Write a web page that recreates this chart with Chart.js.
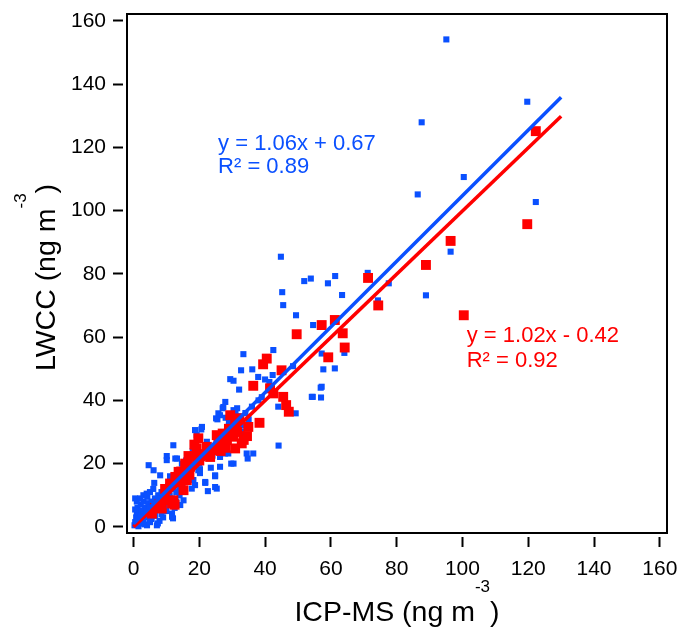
<!DOCTYPE html>
<html>
<head>
<meta charset="utf-8">
<script src="https://cdn.jsdelivr.net/npm/chart.js@4.4.1/dist/chart.umd.min.js"></script>
<style>
  html, body { margin: 0; padding: 0; background: #fff; }
  canvas { display: block; }
</style>
</head>
<body>
<canvas id="c" width="680" height="629"></canvas>
<script>
// axis ticks (same on both axes)
const tickValues = [0, 20, 40, 60, 80, 100, 120, 140, 160];

// ICP-MS (x) vs LWCC (y), small blue markers
const bluePoints = [
  [95.1,154.1],[119.7,134.4],[87.6,127.9],[100.4,110.6],[86.4,105.1],[122.3,102.7],[96.4,87.0],[88.9,73.2],
  [71.2,80.3],[77.6,77.0],[63.4,73.3],[74.3,71.6],[61.3,79.3],[59.1,77.0],[64.1,55.0],[57.2,54.8],
  [57.7,49.8],[61.2,50.1],[57.2,44.3],[57.0,40.9],[54.5,41.1],[44.8,85.4],[45.2,74.2],[45.5,70.1],
  [51.9,77.7],[53.9,78.5],[49.4,66.9],[54.6,63.8],[44.0,38.0],[49.3,35.9],[44.1,25.7],[42.5,55.9],
  [33.4,54.6],[32.7,49.5],[36.1,49.8],[29.4,46.7],[30.4,46.2],[32.1,43.4],[37.9,47.4],[40.0,46.6],
  [42.3,48.0],[41.3,45.8],[48.5,50.8],[56.9,44.0],[54.2,41.1],[27.9,39.5],[27.1,37.5],[25.8,35.9],
  [25.1,34.3],[30.4,36.9],[32.7,29.7],[34.4,23.2],[36.4,23.2],[30.4,20.0],[28.8,23.2],[26.3,22.1],
  [26.3,19.0],[24.8,16.0],[25.3,12.1],[22.6,11.3],[21.8,13.9],[23.5,18.7],[20.6,30.8],[19.2,29.0],
  [22.3,26.9],[20.2,18.2],[20.2,17.0],[12.1,25.8],[10.1,22.4],[12.7,21.6],[14.7,20.0],[4.6,19.5],
  [6.1,17.9],[8.1,16.3],[6.3,13.9],[11.1,16.0],[18.2,14.8],[18.7,13.2],[15.2,8.4],[14.2,6.9],
  [11.7,4.2],[12.0,2.7],[7.9,1.9],[7.1,0.5],[27.3,37.9],[26.3,35.3],[28.8,31.6],[32.9,30.0],
  [34.7,21.6],[29.7,20.0],[24.8,16.3],[21.8,14.2],[24.8,12.6],[19.7,17.9],[13.2,21.6],[18.7,30.6],
  [20.8,31.6],[25.3,25.8],[27.8,23.2],[10.1,21.1],[17.7,12.1],[11.7,9.0],[11.7,3.2],[7.4,1.1],
  [4.1,0.5],[0.5,9.0],[22,22],[23,24],[24,22.5],[26,27],[27,28],[28,30],[29,29],[30,31],
  [31,33],[30,34],[32,35],[33,32],[34,36],[35,34],[36,38],[38,40],[39,41],[25.5,34],
  [29,33],[28,34.5],[31,36.5],[31.5,37.5],[29,30.5],[30.5,29],[0.3,0.5],[0.5,1.5],[0.8,3],[1,4.5],
  [0.5,5.5],[1.2,6],[1.5,2],[2,1],[2,3.5],[2.5,5],[2.2,7],[3,2],[3,4],[3.5,6],[3,8],[4,3],
  [4,5.5],[4.5,7.5],[4.2,9.5],[5,4],[5,6],[5.5,8],[5.5,2.5],[6,5],[6,7],[6.5,9],[6.5,3.5],[7,6],
  [7,8],[7.5,10],[8,7],[8,9],[8.5,11],[9,8],[9,10],[9.5,12],[10,9.5],[10,11],[10.5,13],[11,10],
  [11,12],[12,12],[12,14],[13,11],[13,13],[14,15],[14,12.5],[15,14],[15,16],[16,15],[16,18],[17,17],
  [1,8],[2,9],[3,10],[4,10.5],[5,11],[6,12],[1.5,0.2],[3.5,0.8],[5,1.5],[9,3],[10,5],[8.5,4],
  [9.5,6.5],[13,8],[14,10],[12.5,6],[18,19],[19,21],[20,20],[21,22],[17,20],[15,18],[16,21],[18,24]
];

// red markers
const redPoints = [
  [122.3,125.1],[119.7,95.7],[96.4,90.4],[88.9,82.8],[71.3,78.7],[74.4,70.0],[100.4,66.9],[63.6,61.2],
  [64.2,56.7],[61.2,65.4],[57.2,63.8],[59.2,53.6],[49.6,60.9],[40.5,53.2],[39.4,51.4],[45.0,49.5],
  [36.4,44.6],[42.5,42.2],[41.5,43.8],[45.5,41.1],[46.4,38.5],[47.2,36.4],[38.3,32.9],[34.9,31.6],
  [34.5,28.7],[29.4,35.3],[32.2,34.3],[30.9,32.2],[30.4,28.5],[32.9,26.4],[30.9,24.8],[28.4,27.4],
  [27.1,29.5],[25.3,29.0],[25.8,26.4],[23.8,24.3],[22.3,25.3],[23.3,22.1],[19.7,28.0],[19.2,24.8],
  [18.2,22.1],[16.7,22.4],[15.7,20.0],[17.2,19.0],[13.7,17.4],[15.7,16.9],[16.2,14.8],[14.2,14.2],
  [15.2,11.6],[11.1,13.7],[12.1,8.4],[11.7,7.4],[8.6,5.8],[7.9,7.2],[5.6,4.2],[31.5,30],[33.5,27.5],
  [29,31],[28,25],[26.5,24],[20,21],[21,23],[18.5,26],[10,12],[13,15],[17,16.5],[9.5,8.5],[6.5,6],
  [12.7,15.8],[14.5,17.5],[12.5,7],[9.6,12]
];

// fitted lines, end points
const blueFitX = [0, 130];
const blueFitY = [1.0, 135.8];
const redFitX = [0, 130];
const redFitY = [0.0, 129.8];

const BLUE = '#0a50ff';
const RED = '#ff0000';
const FONT = '"Liberation Sans", Arial, sans-serif';
const GAP = 4; // frame sits inside the tick start

const toXY = (pts) => pts.map(p => ({ x: p[0], y: p[1] }));
const zipXY = (xs, ys) => xs.map((x, i) => ({ x: x, y: ys[i] }));

const framePlugin = {
  id: 'frame',
  afterDraw(chart) {
    const ctx = chart.ctx;
    const a = chart.chartArea;
    const xs = chart.scales.x, ys = chart.scales.y;
    ctx.save();
    ctx.strokeStyle = '#000';
    ctx.lineWidth = 2;
    ctx.strokeRect(a.left + GAP, a.top + GAP, a.right - a.left - 2 * GAP, a.bottom - a.top - 2 * GAP);

    // fit equations
    ctx.font = '22px ' + FONT;
    ctx.textBaseline = 'alphabetic';
    ctx.fillStyle = BLUE;
    let tx = xs.getPixelForValue(25.7), ty = ys.getPixelForValue(119.2);
    ctx.fillText('y = 1.06x + 0.67', tx, ty);
    ctx.fillText('R² = 0.89', tx, ty + 23);
    ctx.fillStyle = RED;
    tx = xs.getPixelForValue(101.3); ty = ys.getPixelForValue(58.5);
    ctx.fillText('y = 1.02x - 0.42', tx, ty);
    ctx.fillText('R² = 0.92', tx, ty + 25);

    // axis titles with raised exponent
    const cx = (a.left + a.right) / 2;
    const cy = (a.top + a.bottom) / 2 + 4;
    drawTitle(ctx, 'ICP-MS (ng m', cx, 621);
    ctx.translate(55, cy);
    ctx.rotate(-Math.PI / 2);
    drawTitle(ctx, 'LWCC (ng m', 0, 0);
    ctx.restore();
  }
};

function drawTitle(ctx, main, cx, base) {
  ctx.save();
  ctx.fillStyle = '#000';
  ctx.textBaseline = 'alphabetic';
  ctx.textAlign = 'left';
  const big = '28.5px ' + FONT, small = '17px ' + FONT;
  ctx.font = big;
  const w1 = ctx.measureText(main).width;
  const w3 = ctx.measureText(')').width;
  ctx.font = small;
  const w2 = ctx.measureText('-3').width;
  let x = cx - (w1 + w2 + w3) / 2;
  ctx.font = big;
  ctx.fillText(main, x, base);
  x += w1;
  ctx.font = small;
  ctx.fillText('-3', x, base - 29);
  x += w2;
  ctx.font = big;
  ctx.fillText(')', x, base);
  ctx.restore();
}

const axisCommon = {
  type: 'linear',
  min: -3.2,
  max: 163.4,
  border: { display: false },
  grid: { drawOnChartArea: false, drawTicks: true, tickLength: 10, tickWidth: 2, tickColor: '#000' },
  afterBuildTicks: (s) => { s.ticks = tickValues.map(v => ({ value: v })); },
};

new Chart(document.getElementById('c'), {
  type: 'scatter',
  data: {
    datasets: [
      { type: 'line', data: zipXY(blueFitX, blueFitY), borderColor: BLUE, borderWidth: 3.5, pointRadius: 0, fill: false },
      { type: 'line', data: zipXY(redFitX, redFitY), borderColor: RED, borderWidth: 3.5, pointRadius: 0, fill: false },
      { data: toXY(redPoints), pointStyle: 'rect', pointRadius: 7, backgroundColor: RED, borderWidth: 0 },
      { data: toXY(bluePoints), pointStyle: 'rect', pointRadius: 4.3, backgroundColor: BLUE, borderWidth: 0 }
    ]
  },
  options: {
    responsive: false,
    animation: false,
    events: [],
    layout: { padding: { left: 0, top: 10, right: 9, bottom: 0 } },
    plugins: { legend: { display: false }, tooltip: { enabled: false } },
    scales: {
      x: Object.assign({}, axisCommon, {
        position: 'bottom',
        afterFit: (s) => { s.height = 92; s.paddingLeft = 0; s.paddingRight = 0; },
        ticks: { autoSkip: false, maxRotation: 0, padding: 10, color: '#000', font: { family: FONT, size: 21 } }
      }),
      y: Object.assign({}, axisCommon, {
        position: 'left',
        afterFit: (s) => { s.width = 123; s.paddingTop = 0; s.paddingBottom = 0; },
        ticks: { autoSkip: false, padding: 7, color: '#000', font: { family: FONT, size: 21 } }
      })
    }
  },
  plugins: [framePlugin]
});
</script>
</body>
</html>
